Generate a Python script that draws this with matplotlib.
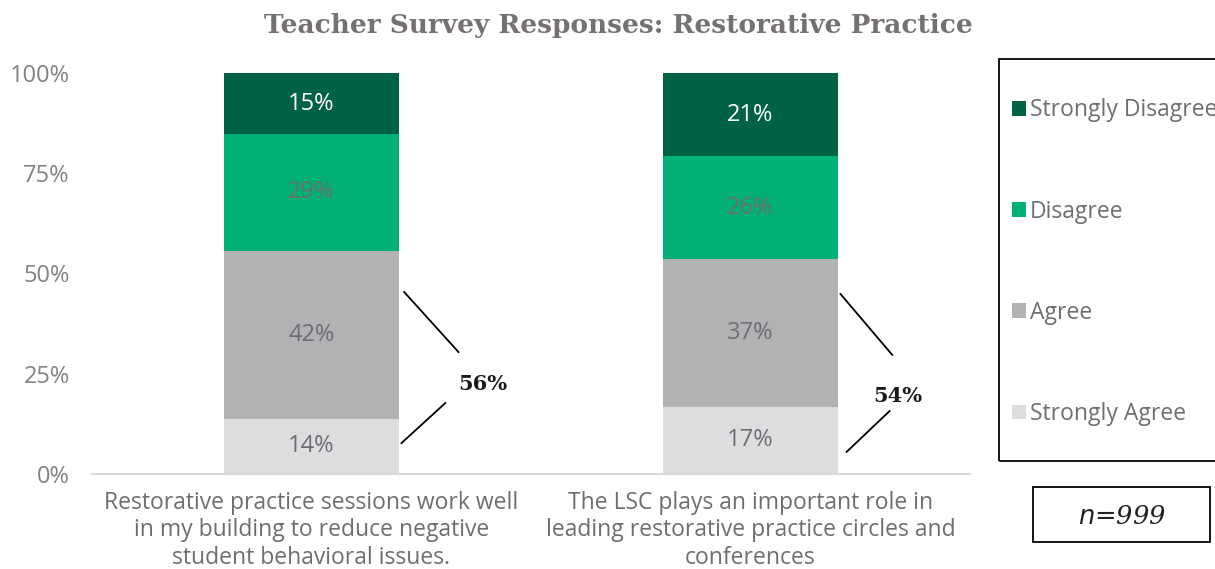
import numpy as np
import matplotlib
matplotlib.use("Agg")
import matplotlib.pyplot as plt
from matplotlib.patches import Rectangle
from matplotlib.ticker import PercentFormatter

# Survey items (x axis)
questions = [
    "Restorative practice sessions work well\nin my building to reduce negative\nstudent behavioral issues.",
    "The LSC plays an important role in\nleading restorative practice circles and\nconferences",
]

# Response shares per item, stacked bottom to top
strongly_agree = [0.138, 0.168]
agree = [0.419, 0.368]
disagree = [0.290, 0.256]
strongly_disagree = [0.153, 0.208]

responses = ["Strongly Agree", "Agree", "Disagree", "Strongly Disagree"]
colors = ["#DCDDDE", "#B1B2B4", "#00B074", "#006244"]
label_colors = ["#6D6E71", "#6D6E71", "#6D6E71", "white"]

y_ticks = [0, 0.25, 0.5, 0.75, 1.0]
sample_size = 999

sans = "Open Sans"
serif = "DejaVu Serif"
grey = "#6D6E71"
fs = 16.5

fig = plt.figure(figsize=(12.15, 5.69), dpi=100)
ax = fig.add_axes([0.0757, 0.167, 0.7226, 0.7047])

x = np.arange(len(questions))
bottom = np.zeros(len(questions))
bars = []
for name, vals, col, tcol in zip(responses,
                                 [strongly_agree, agree, disagree, strongly_disagree],
                                 colors, label_colors):
    b = ax.bar(x, vals, width=0.4, bottom=bottom, color=col, label=name)
    ax.bar_label(b, labels=[f"{v:.0%}" for v in vals], label_type="center",
                 color=tcol, fontsize=17, family=sans)
    bars.append(b)
    bottom += np.array(vals)

ax.set_xlim(-0.5, 1.5)
ax.set_ylim(0, 1)
ax.set_yticks(y_ticks)
ax.yaxis.set_major_formatter(PercentFormatter(1.0, decimals=0))
ax.set_xticks(x)
ax.set_xticklabels(questions, fontsize=fs, family=sans, color=grey, linespacing=1.2)
ax.tick_params(axis="y", length=0, pad=16, labelsize=17, labelcolor="#808285")
ax.tick_params(axis="x", length=0, pad=12)
for lab in ax.get_yticklabels():
    lab.set_family(sans)
for side in ["left", "right", "top"]:
    ax.spines[side].set_visible(False)
ax.spines["bottom"].set_color("#D9D9D9")
ax.spines["bottom"].set_linewidth(1.5)

# combined agreement callouts to the right of each bar
callouts = [
    # (upper line, lower line, text position)
    (((0.211, 0.454), (0.335, 0.304)), ((0.205, 0.077), (0.305, 0.177)), (0.39, 0.224)),
    (((1.205, 0.449), (1.323, 0.297)), ((1.219, 0.055), (1.317, 0.157)), (1.335, 0.195)),
]
for i, (up, low, txt) in enumerate(callouts):
    for seg in (up, low):
        ax.plot([seg[0][0], seg[1][0]], [seg[0][1], seg[1][1]], color="black",
                lw=1.3, clip_on=False)
    total = strongly_agree[i] + agree[i]
    ax.text(txt[0], txt[1], f"{total:.0%}", ha="center", va="center",
            fontsize=15, fontweight="bold", family=serif, color="#1a1a1a")

fig.suptitle("Teacher Survey Responses: Restorative Practice", x=0.509, y=0.978,
             fontsize=19, fontweight="bold", family=serif, color="#767171")

# legend frame runs off the right edge of the figure
fig.patches.append(Rectangle((999 / 1215, 1 - 461 / 569), 260 / 1215, 402 / 569,
                             transform=fig.transFigure, fill=False,
                             edgecolor="black", lw=1.3))
handles = [b.patches[0] for b in bars[::-1]]
leg = fig.legend(handles, responses[::-1], loc="upper left",
                 bbox_to_anchor=(1010 / 1215, 1 - 96 / 569), frameon=False,
                 prop={"family": sans, "size": fs}, labelcolor=grey,
                 handlelength=0.61, handleheight=0.61, handletextpad=0.17,
                 labelspacing=3.37, borderpad=0.1, borderaxespad=0)

# sample size box
fig.patches.append(Rectangle((1033 / 1215, 1 - 542 / 569), 177 / 1215, 55 / 569,
                             transform=fig.transFigure, fill=False,
                             edgecolor="black", lw=1.3))
fig.text(1122 / 1215, 1 - 516 / 569, f"$n$={sample_size}", ha="center", va="center",
         fontsize=18.5, family=serif, style="italic", color="#222222")

fig.savefig("out.png", dpi=100)
